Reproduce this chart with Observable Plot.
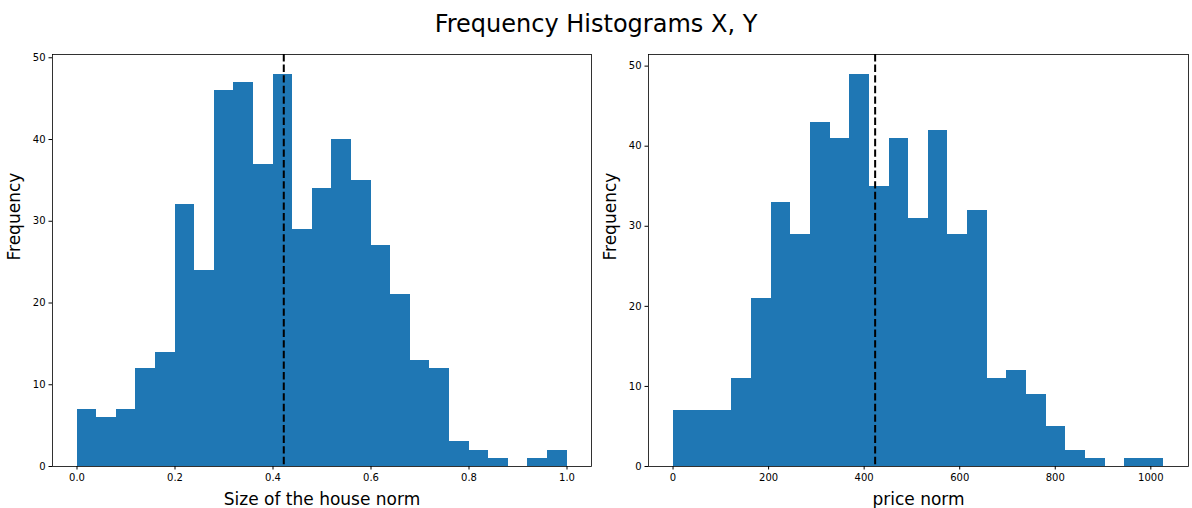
<!DOCTYPE html>
<html>
<head>
<meta charset="utf-8">
<script src="https://cdn.jsdelivr.net/npm/d3@7"></script>
<script src="https://cdn.jsdelivr.net/npm/@observablehq/plot@0.6"></script>
<style>
  html, body { margin: 0; padding: 0; background: #fff; }
  body { width: 1192px; height: 508px; position: relative; overflow: hidden; font-family: "DejaVu Sans", sans-serif; }
  #title { position: absolute; left: 0; width: 1192px; top: 9px; text-align: center; font-size: 24px; line-height: 30px; color: #000; z-index: 2; }
  .panel { position: absolute; top: 0; z-index: 1; }
</style>
</head>
<body>
<div id="title">Frequency Histograms X, Y</div>
<div id="left" class="panel" style="left:0px"></div>
<div id="right" class="panel" style="left:596px"></div>
<script>
// Left histogram: "Size of the house norm"
const sizeCounts = [7, 6, 7, 12, 14, 32, 24, 46, 47, 37, 48, 29, 34, 40, 35, 27, 21, 13, 12, 3, 2, 1, 0, 1, 2];
const sizeRange = [0, 1];
const sizeMean = 0.422;
const sizeTicks = [0, 0.2, 0.4, 0.6, 0.8, 1.0];

// Right histogram: "price norm"
const priceCounts = [7, 7, 7, 11, 21, 33, 29, 43, 41, 49, 35, 41, 31, 42, 29, 32, 11, 12, 9, 5, 2, 1, 0, 1, 1];
const priceRange = [0, 1027.5];
const priceMean = 423;
const priceTicks = [0, 200, 400, 600, 800, 1000];

const yTicks = [0, 10, 20, 30, 40, 50];

function bins(counts, range) {
  const w = (range[1] - range[0]) / counts.length;
  return counts.map((c, i) => ({x1: range[0] + i * w, x2: range[0] + (i + 1) * w, y: c}));
}

function panel(counts, range, mean, xticks, xfmt, xlabel, marginRight) {
  const span = range[1] - range[0];
  const ymax = d3.max(counts) * 1.05;
  return Plot.plot({
    width: 596,
    height: 508,
    marginTop: 54,
    marginBottom: 42,
    marginLeft: 52,
    marginRight: marginRight,
    style: {fontFamily: "DejaVu Sans, sans-serif", fontSize: "10px", color: "#000", background: "transparent"},
    x: {domain: [range[0] - 0.05 * span, range[1] + 0.05 * span]},
    y: {domain: [0, ymax]},
    marks: [
      Plot.rectY(bins(counts, range), {x1: "x1", x2: "x2", y: "y", fill: "#1f77b4", inset: 0, shapeRendering: "crispEdges"}),
      Plot.ruleX([mean], {stroke: "#000", strokeWidth: 2, strokeDasharray: "7.4,3.2"}),
      Plot.frame({stroke: "#000", strokeWidth: 0.8}),
      Plot.axisX({ticks: xticks, tickFormat: xfmt, tickSize: 3.5, tickPadding: 3.5, label: null, fontSize: 10}),
      Plot.axisY({ticks: yTicks, tickFormat: d => String(d), tickSize: 3.5, tickPadding: 3.5, label: null, fontSize: 10}),
      Plot.text([xlabel], {frameAnchor: "bottom", dy: 38, fontSize: 17, text: d => d, fill: "#000"}),
      Plot.text(["Frequency"], {frameAnchor: "left", dx: -38, rotate: -90, fontSize: 17, text: d => d, fill: "#000"})
    ]
  });
}

document.getElementById("left").append(panel(sizeCounts, sizeRange, sizeMean, sizeTicks, d => d.toFixed(1), "Size of the house norm", 5));
document.getElementById("right").append(panel(priceCounts, priceRange, priceMean, priceTicks, d => String(d), "price norm", 4));
</script>
</body>
</html>
